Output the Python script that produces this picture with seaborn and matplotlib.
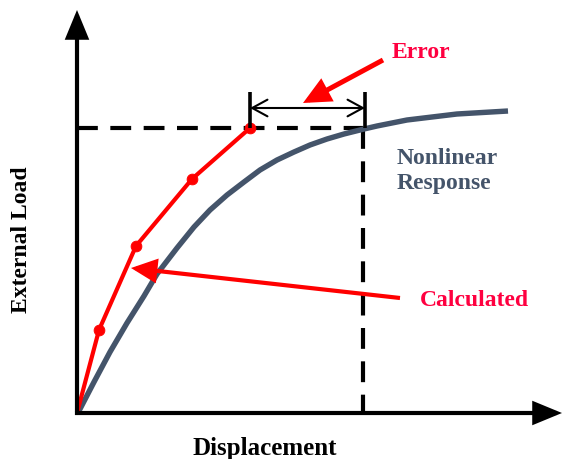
import matplotlib
matplotlib.use("Agg")
import matplotlib.pyplot as plt
import seaborn as sns
import pandas as pd
from matplotlib.patches import FancyArrowPatch

sns.set_theme(style="white")
plt.rcParams['font.family'] = ['Liberation Serif', 'DejaVu Serif']

# --- data (arbitrary units) ---
curve_disp = [0, 3, 17, 33, 50, 67, 80, 100, 117, 133, 150, 167, 183, 200, 217,
              233, 250, 267, 287, 300, 330, 380, 431]
curve_load = [0, 4, 31, 61, 90, 117, 139, 165, 186, 203, 218, 231, 243, 253, 261,
              268, 274, 279, 284, 287, 293, 299, 302]
calc_disp = [0, 22, 59, 115, 173]
calc_load = [0, 83, 167, 234, 285]
limit_load = 285
limit_disp = 286

curve_df = pd.DataFrame({"disp": curve_disp, "load": curve_load})
calc_df = pd.DataFrame({"disp": calc_disp, "load": calc_load})

fig = plt.figure(figsize=(5.66, 4.59), dpi=100)
ax = fig.add_axes([0, 0, 1, 1])
ax.set_xlim(-77, 489)
ax.set_ylim(-46, 413)

slate = "#44546A"
red = "#FF0000"
txtred = "#FF0040"

# dashed guide lines
ax.plot([0, limit_disp], [limit_load, limit_load], color="black", lw=3,
        dashes=(5, 3), dash_capstyle="butt", zorder=2)
ax.plot([limit_disp, limit_disp], [limit_load, 0], color="black", lw=3,
        dashes=(5, 3), dash_capstyle="butt", zorder=2)

# nonlinear response curve
sns.lineplot(data=curve_df, x="disp", y="load", sort=False, color=slate,
             lw=3.9, ax=ax, zorder=3)
ax.lines[-1].set_solid_joinstyle("round")
ax.lines[-1].set_solid_capstyle("butt")

# calculated piecewise line
sns.lineplot(data=calc_df, x="disp", y="load", sort=False, color=red,
             lw=3, ax=ax, zorder=4)
sns.scatterplot(data=calc_df.iloc[1:], x="disp", y="load", color=red,
                s=60, edgecolor=red, ax=ax, zorder=5)
ax.set_xlabel("")
ax.set_ylabel("")
ax.axis("off")

def arrow(p0, p1, lw, color, hl, hw, style="-|>"):
    a = FancyArrowPatch(p0, p1, arrowstyle=f"{style},head_length={hl},head_width={hw}",
                        mutation_scale=20, lw=lw, color=color, shrinkA=0, shrinkB=0,
                        zorder=6, capstyle="butt", joinstyle="miter")
    ax.add_patch(a)

# axes with arrows
arrow((0, -2), (0, 403), 3, "black", 0.8, 0.33)
arrow((-2, 0), (485, 0), 3, "black", 0.8, 0.33)

# error bracket
ax.plot([173, 173], [285, 321], color="black", lw=2.6, solid_capstyle="butt", zorder=6)
ax.plot([288, 288], [285, 321], color="black", lw=2.6, solid_capstyle="butt", zorder=6)
ax.add_patch(FancyArrowPatch((173, 305), (288, 305),
                             arrowstyle="<->,head_length=0.55,head_width=0.3",
                             mutation_scale=20, lw=1.5, color="black",
                             shrinkA=0, shrinkB=0, zorder=6))

# annotation arrows
arrow((306, 353), (226, 310), 3.6, red, 0.7, 0.33)
arrow((323, 115), (54, 145), 3.0, red, 0.7, 0.33)

# texts
ax.text(344, 360, "Error", color=txtred, fontsize=17, fontweight="bold",
        ha="center", va="center")
ax.text(320, 242, "Nonlinear\nResponse", color=slate, fontsize=17, fontweight="bold",
        ha="left", va="center", linespacing=1.3)
ax.text(343, 113, "Calculated", color=txtred, fontsize=17, fontweight="bold",
        ha="left", va="center")
ax.text(188, -36, "Displacement", color="black", fontsize=18, fontweight="bold",
        ha="center", va="center")
ax.text(-55, 173, "External Load", color="black", fontsize=17, fontweight="bold",
        ha="center", va="center", rotation=90)

fig.savefig("out.png", dpi=100)
